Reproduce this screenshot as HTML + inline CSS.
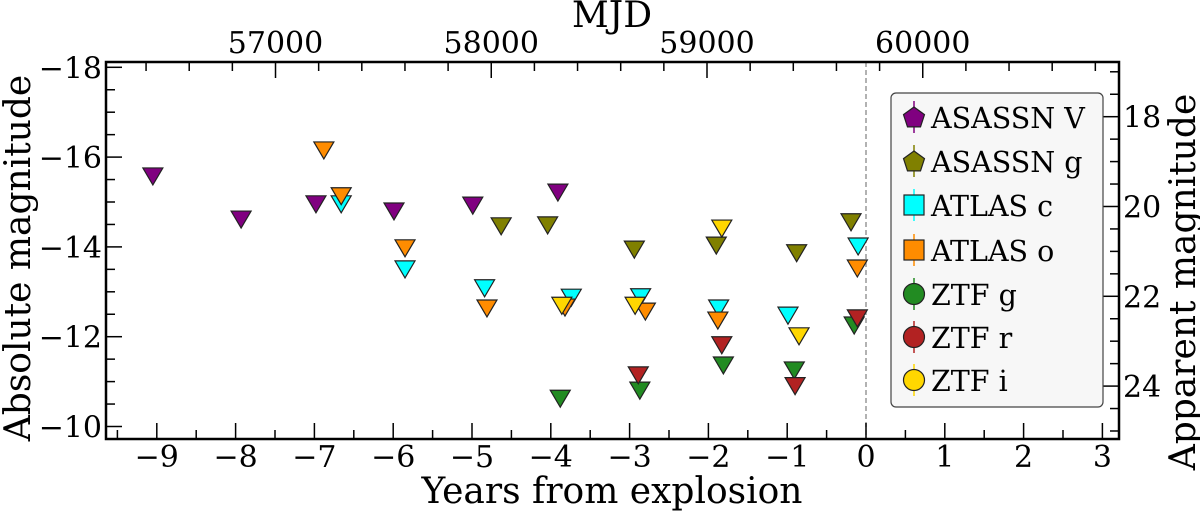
<!DOCTYPE html>
<html><head><meta charset="utf-8"><style>
html,body{margin:0;padding:0;background:#fff;width:1200px;height:511px;overflow:hidden}
svg text{font-family:"DejaVu Serif","Liberation Serif",serif;fill:#000}
</style></head><body>
<svg id="chart" width="1200" height="511" xmlns="http://www.w3.org/2000/svg">
<rect x="0" y="0" width="1200" height="511" fill="#fff"/>
<g id="grid"></g>
<g id="marks"></g>
<g id="axes"></g>
<g id="legend"></g>
</svg>
<script>
// Data (years from explosion, absolute magnitude) — upper limits
const asassnVYears = [-9.05, -7.93, -6.98, -5.99, -4.99, -3.91];
const asassnVMags  = [-15.58, -14.62, -14.96, -14.80, -14.93, -15.22];
const asassnGYears = [-4.63, -4.04, -2.94, -1.90, -0.88, -0.19];
const asassnGMags  = [-14.47, -14.49, -13.95, -14.04, -13.87, -14.56];
const atlasCYears  = [-6.66, -5.85, -4.84, -3.74, -2.86, -1.87, -0.99, -0.10];
const atlasCMags   = [-14.96, -13.51, -13.09, -12.88, -12.89, -12.64, -12.48, -14.02];
const atlasOYears  = [-6.88, -6.66, -5.85, -4.81, -3.82, -2.80, -1.88, -0.11];
const atlasOMags   = [-16.16, -15.14, -13.98, -12.64, -12.66, -12.57, -12.37, -13.53];
const ztfGYears    = [-3.88, -2.87, -1.81, -0.91, -0.15];
const ztfGMags     = [-10.63, -10.81, -11.37, -11.26, -12.26];
const ztfRYears    = [-2.89, -1.83, -0.90, -0.11];
const ztfRMags     = [-11.15, -11.82, -10.91, -12.42];
const ztfIYears    = [-3.86, -2.93, -1.83, -0.85];
const ztfIMags     = [-12.70, -12.70, -14.42, -12.02];
const xTicks = [-9,-8,-7,-6,-5,-4,-3,-2,-1,0,1,2,3];
const yTicks = [-18,-16,-14,-12,-10];
const appTicks = [18,20,22,24];
const mjdTicks = [57000,58000,59000,60000];
const explosionMJD = 59737;
const distModulus = 34.9;

const NS="http://www.w3.org/2000/svg";
const L=106,R=1119,T=62,B=439;
const xScale=v=>866+v*78.8;
const yScale=m=>67.3+(m+18)*44.9;
const mjdX=d=>xScale((d-explosionMJD)/365.25);
function el(tag,attrs,parent,text){const e=document.createElementNS(NS,tag);for(const k in attrs)e.setAttribute(k,attrs[k]);if(text!==undefined)e.textContent=text;parent.appendChild(e);return e;}
const axes=document.getElementById('axes'),marks=document.getElementById('marks'),grid=document.getElementById('grid'),leg=document.getElementById('legend');

let dl=el('line',{x1:xScale(0),x2:xScale(0),y1:T,y2:B,stroke:'#999','stroke-width':1.5,'stroke-dasharray':'5,3'},grid);



const series=[
 ['asassn-v',asassnVYears,asassnVMags,'#800080'],
 ['asassn-g',asassnGYears,asassnGMags,'#808000'],
 ['atlas-c',atlasCYears,atlasCMags,'#00ffff'],
 ['atlas-o',atlasOYears,atlasOMags,'#ff8c00'],
 ['ztf-g',ztfGYears,ztfGMags,'#228b22'],
 ['ztf-r',ztfRYears,ztfRMags,'#b22222'],
 ['ztf-i',ztfIYears,ztfIMags,'#ffd700']];
series.forEach(s=>{
 s[1].forEach((yr,i)=>{
  const cx=xScale(yr),cy=yScale(s[2][i]);
  const p=el('polygon',{points:`${cx-10},${cy-8} ${cx+10},${cy-8} ${cx},${cy+9}`,fill:s[3],stroke:'#222','stroke-width':1.2},marks);
  
  
 });
});

let fr=el('rect',{x:L,y:T,width:R-L,height:B-T,fill:'none',stroke:'#000','stroke-width':2.5},axes);


for(let v=-9.5;v<=3.01;v+=0.5){const x=xScale(v);const maj=Math.abs(v-Math.round(v))<1e-6;el('line',{x1:x,x2:x,y1:B,y2:B-(maj?16:9),stroke:'#000','stroke-width':1.5},axes);}
xTicks.forEach(v=>{const t=el('text',{x:xScale(v),y:467,'font-size':30,'text-anchor':'middle'},axes,(v<0?'\u2212':'')+Math.abs(v));});
for(let m=-18;m<=-9.99;m+=0.5){const y=yScale(m);const maj=Math.abs(m%2)<1e-6;el('line',{x1:L,x2:L+(maj?16:9),y1:y,y2:y,stroke:'#000','stroke-width':1.5},axes);}
yTicks.forEach(v=>{const t=el('text',{x:L-4,y:yScale(v)+11,'font-size':30,'text-anchor':'end'},axes,'\u2212'+Math.abs(v));});
for(let a=17;a<=25;a+=0.5){const y=yScale(a-distModulus);if(y<T+2||y>B-2)continue;const maj=Math.abs(a%2)<1e-6;el('line',{x1:R,x2:R-(maj?16:9),y1:y,y2:y,stroke:'#000','stroke-width':1.5},axes);}
appTicks.forEach(v=>{const t=el('text',{x:R+4,y:yScale(v-distModulus)+11,'font-size':30},axes,String(v));});
for(let d=56400;d<=60800;d+=200){const x=mjdX(d);if(x<L+2||x>R-2)continue;const maj=d%1000===0;el('line',{x1:x,x2:x,y1:T,y2:T+(maj?16:9),stroke:'#000','stroke-width':1.5},axes);}
mjdTicks.forEach(v=>{const t=el('text',{x:mjdX(v),y:53,'font-size':30,'text-anchor':'middle'},axes,String(v));});
let t1=el('text',{x:612,y:27,'font-size':36,'text-anchor':'middle'},axes,'MJD');
let t2=el('text',{x:612,y:503,'font-size':36,'text-anchor':'middle'},axes,'Years from explosion');
let t3=el('text',{x:0,y:0,'font-size':36,'text-anchor':'middle',transform:'translate(30,258) rotate(-90)'},axes,'Absolute magnitude');
let t4=el('text',{x:0,y:0,'font-size':36,'text-anchor':'middle',transform:'translate(1195,282) rotate(-90)'},axes,'Apparent magnitude');

let lb=el('rect',{x:891,y:93,width:212,height:314,rx:5,fill:'#f7f7f7',stroke:'#444','stroke-width':1.2},leg);


const legLabels=['ASASSN V','ASASSN g','ATLAS c','ATLAS o','ZTF g','ZTF r','ZTF i'];
const legY=[117,161,205,250,294,337,380];
legLabels.forEach((lab,i)=>{
 const g=el('g',{},leg);
 
 
 const c=series[i][3],cx=914,cy=legY[i];
 el('line',{x1:cx,x2:cx,y1:cy-16,y2:cy+16,stroke:c,'stroke-width':1.5},g);
 if(i<2){let pts=[];for(let k=0;k<5;k++){const a=-Math.PI/2+k*2*Math.PI/5;pts.push((cx+11*Math.cos(a)).toFixed(1)+','+(cy+11*Math.sin(a)+1).toFixed(1));}el('polygon',{points:pts.join(' '),fill:c,stroke:'#222','stroke-width':1.2},g);}
 else if(i<4){el('rect',{x:cx-10,y:cy-10,width:20,height:20,fill:c,stroke:'#222','stroke-width':1.2},g);}
 else{el('circle',{cx:cx,cy:cy,r:10.5,fill:c,stroke:'#222','stroke-width':1.2},g);}
 el('text',{x:931,y:cy+11,'font-size':28.5},g,lab);
});
</script>
</body></html>
